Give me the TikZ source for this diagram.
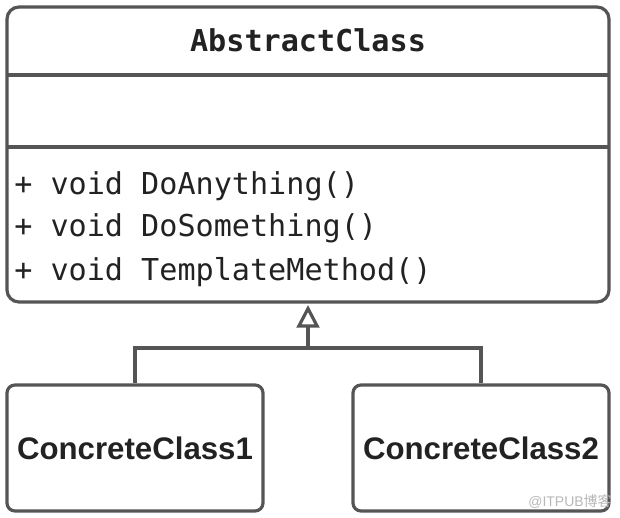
\documentclass[tikz,border=0pt]{standalone}
\usepackage{fontspec}
\setmainfont{Liberation Sans}
\setmonofont{DejaVu Sans Mono}
\newfontfamily\cjkfont{Noto Sans CJK SC}
\usetikzlibrary{arrows.meta}
\definecolor{linegray}{HTML}{555555}
\definecolor{textdark}{HTML}{222222}
\definecolor{wmgray}{HTML}{B8B8B8}
\tikzset{
  umlline/.style={draw=linegray, line width=2.4pt},
  classbox/.style={umlline, rectangle, inner sep=0pt},
  monotext/.style={text=textdark, font=\ttfamily\fontsize{22.6}{26}\selectfont, inner sep=0pt},
  titletext/.style={text=textdark, font=\ttfamily\bfseries\fontsize{22.6}{26}\selectfont, inner sep=0pt},
  childtext/.style={text=textdark, font=\bfseries\fontsize{23.4}{27}\selectfont, inner sep=0pt},
}
\begin{document}
\begin{tikzpicture}[x=0.75pt, y=-0.75pt]
\useasboundingbox[fill=white] (0,0) rectangle (620,517);
% main abstract class box
\node[classbox, rounded corners=9pt, minimum width=451.5pt, minimum height=221.25pt] (abs) at (308,154.5) {};
\coordinate (d1l) at (7.5,75); \coordinate (d1r) at (608.5,75);
\coordinate (d2l) at (7.5,147); \coordinate (d2r) at (608.5,147);
\draw[umlline] (d1l) -- (d1r);
\draw[umlline] (d2l) -- (d2r);
\node[titletext] (title) at (308,40) {AbstractClass};
\node[monotext, anchor=base west] (m1) at (14,194) {+ void DoAnything()};
\node[monotext, anchor=base west] (m2) at (14,236) {+ void DoSomething()};
\node[monotext, anchor=base west] (m3) at (14,280) {+ void TemplateMethod()};
% concrete classes
\node[classbox, rounded corners=6pt, minimum width=192pt, minimum height=94.5pt] (c1) at (135,448) {};
\node[classbox, rounded corners=6pt, minimum width=192pt, minimum height=94.5pt] (c2) at (481,448) {};
\node[childtext] (t1) at (c1) {ConcreteClass1};
\node[childtext] (t2) at (c2) {ConcreteClass2};
% inheritance connector
\coordinate (jn) at (308,348);
\coordinate (tip) at (308,305);
\draw[umlline] (c1.north) |- (jn) -| (c2.north);
\draw[umlline, -{Triangle[open, length=17pt, width=17pt, line width=2.4pt]}] (jn) -- (tip);
% watermark
\node[text=wmgray, font=\fontsize{10.5}{12}\selectfont, inner sep=0pt, anchor=east] (wm) at (612,502) {@ITPUB{\cjkfont 博客}};
\end{tikzpicture}
\end{document}
